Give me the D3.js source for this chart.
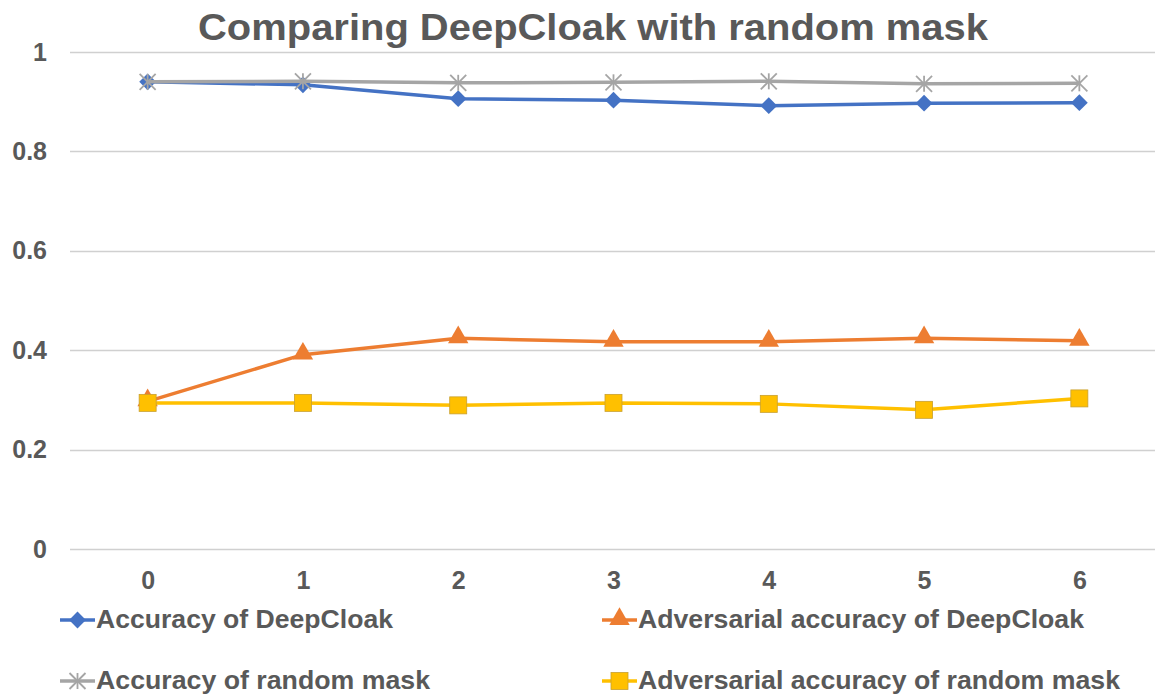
<!DOCTYPE html>
<html>
<head>
<meta charset="utf-8">
<script src="https://cdn.jsdelivr.net/npm/d3@7"></script>
<style>
  body { margin: 0; background: #fff; }
  svg text { font-family: "Liberation Sans", Arial, sans-serif; font-weight: bold; fill: #595959; }
</style>
</head>
<body>
<svg id="chart" width="1155" height="696"></svg>
<script>
// data
const categories = [0, 1, 2, 3, 4, 5, 6];
const accDeepCloak = [0.940, 0.934, 0.906, 0.903, 0.892, 0.897, 0.898];
const advDeepCloak = [0.297, 0.391, 0.424, 0.417, 0.417, 0.424, 0.419];
const accRandom = [0.940, 0.941, 0.938, 0.939, 0.941, 0.936, 0.937];
const advRandom = [0.294, 0.294, 0.289, 0.294, 0.292, 0.280, 0.303];
const yTicks = [0, 0.2, 0.4, 0.6, 0.8, 1];

const seriesNames = [
  "Accuracy of DeepCloak",
  "Adversarial accuracy of DeepCloak",
  "Accuracy of random mask",
  "Adversarial accuracy of random mask"
];
const seriesColors = ["#4472C4", "#ED7D31", "#A5A5A5", "#FFC000"];
const seriesMarkers = ["diamond", "triangle", "star", "square"];
const seriesValues = [accDeepCloak, advDeepCloak, accRandom, advRandom];

const svg = d3.select("#chart");
const plotLeft = 70, plotRight = 1157, plotTop = 52, plotBottom = 549;

const x = d3.scalePoint().domain(categories).range([plotLeft, plotRight]).padding(0.5);
const y = d3.scaleLinear().domain([0, 1]).range([plotBottom, plotTop]);

// title (the original is stretched a bit wider than the font)
svg.append("text")
  .attr("x", 593)
  .attr("y", 40)
  .attr("text-anchor", "middle")
  .attr("textLength", 790)
  .attr("lengthAdjust", "spacingAndGlyphs")
  .style("font-size", "36px")
  .text("Comparing DeepCloak with random mask");

// gridlines
svg.append("g")
  .selectAll("line")
  .data(yTicks)
  .join("line")
  .attr("x1", plotLeft)
  .attr("x2", 1155)
  .attr("y1", d => Math.round(y(d)) + 0.5)
  .attr("y2", d => Math.round(y(d)) + 0.5)
  .attr("stroke", "#d0d0d0")
  .attr("stroke-width", 1.5);

// y axis labels
const yAxis = svg.append("g")
  .attr("transform", "translate(" + (plotLeft - 14) + ",0)")
  .call(d3.axisLeft(y).tickValues(yTicks).tickSize(0).tickPadding(9)
    .tickFormat(d => d === 0 || d === 1 ? d3.format("d")(d) : d3.format(".1f")(d)));
yAxis.select(".domain").remove();
yAxis.selectAll("text")
  .style("font-size", "25px")
  .attr("fill", "#595959");

// x axis labels
const xAxis = svg.append("g")
  .attr("transform", "translate(0," + plotBottom + ")")
  .call(d3.axisBottom(x).tickSize(0).tickPadding(22));
xAxis.select(".domain").remove();
xAxis.selectAll("text")
  .style("font-size", "25px")
  .attr("fill", "#595959");

function drawMarker(g, type, color, cx, cy) {
  if (type === "diamond") {
    g.append("path")
      .attr("d", d3.symbol(d3.symbolDiamond2, 180)())
      .attr("transform", "translate(" + cx + "," + cy + ")")
      .attr("fill", color);
  } else if (type === "triangle") {
    g.append("path")
      .attr("d", d3.symbol(d3.symbolTriangle, 180)())
      .attr("transform", "translate(" + cx + "," + (cy - 1) + ")")
      .attr("fill", color);
  } else if (type === "square") {
    g.append("rect")
      .attr("x", cx - 8.5)
      .attr("y", cy - 8.5)
      .attr("width", 17)
      .attr("height", 17)
      .attr("fill", color)
      .attr("stroke", "#C8A030")
      .attr("stroke-width", 0.8);
  } else if (type === "star") {
    const r = 8;
    const star = g.append("g")
      .attr("transform", "translate(" + cx + "," + cy + ")")
      .attr("stroke", color)
      .attr("stroke-width", 1.8);
    star.append("line").attr("x1", 0).attr("y1", -r).attr("x2", 0).attr("y2", r);
    star.append("line").attr("x1", -r).attr("y1", -r).attr("x2", r).attr("y2", r);
    star.append("line").attr("x1", -r).attr("y1", r).attr("x2", r).attr("y2", -r);
  }
}

// series
const line = d3.line()
  .x((d, i) => x(categories[i]))
  .y(d => y(d));

seriesValues.forEach((vals, s) => {
  const g = svg.append("g");
  g.append("path")
    .datum(vals)
    .attr("fill", "none")
    .attr("stroke", seriesColors[s])
    .attr("stroke-width", 3.5)
    .attr("stroke-linejoin", "round")
    .attr("d", line);
  vals.forEach((v, i) => drawMarker(g, seriesMarkers[s], seriesColors[s], x(categories[i]), y(v)));
});

// legend
const legendPos = [
  { x: 60, y: 620 },
  { x: 602, y: 620 },
  { x: 60, y: 681 },
  { x: 602, y: 681 }
];
const legendWidths = [297, 446, 334, 482];
seriesNames.forEach((name, s) => {
  const p = legendPos[s];
  const g = svg.append("g");
  g.append("line")
    .attr("x1", p.x)
    .attr("x2", p.x + 35)
    .attr("y1", p.y)
    .attr("y2", p.y)
    .attr("stroke", seriesColors[s])
    .attr("stroke-width", 3.5);
  drawMarker(g, seriesMarkers[s], seriesColors[s], p.x + 17.5, p.y);
  g.append("text")
    .attr("x", p.x + 36)
    .attr("y", p.y + 8)
    .attr("textLength", legendWidths[s])
    .attr("lengthAdjust", "spacingAndGlyphs")
    .style("font-size", "26px")
    .text(name);
});
</script>
</body>
</html>
